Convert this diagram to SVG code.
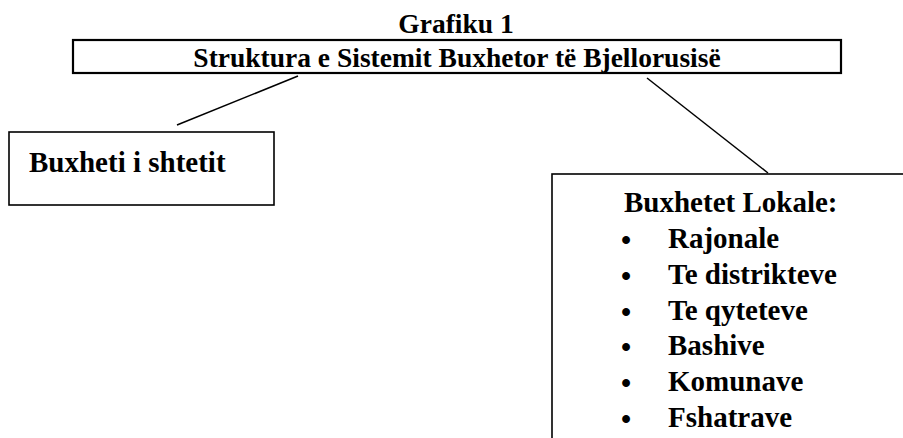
<svg xmlns="http://www.w3.org/2000/svg" width="903" height="438" viewBox="0 0 903 438">
<style>
  text { font-family: "Liberation Serif", "Times New Roman", serif; font-weight: bold; fill: #000; font-size: 29px; }
  .box { fill: #fff; stroke: #000; }
  .conn { stroke: #000; stroke-width: 1.5; fill: none; }
  .title { font-size: 27.5px; }
</style>
<rect width="903" height="438" fill="#fff"/>
<text class="title" x="456" y="33" text-anchor="middle">Grafiku 1</text>
<g id="connectors">
  <line class="conn" x1="298" y1="76" x2="177" y2="125"/>
  <line class="conn" x1="647" y1="78" x2="768" y2="173"/>
</g>
<g id="root">
  <rect class="box" x="73" y="40" width="768" height="33" stroke-width="2.2"/>
  <text class="title" x="457" y="67" text-anchor="middle">Struktura e Sistemit Buxhetor të Bjellorusisë</text>
</g>
<g id="state">
  <rect class="box" x="9" y="132" width="265" height="73" stroke-width="1.6"/>
  <text x="29" y="172">Buxheti i shtetit</text>
</g>
<g id="local">
  <rect class="box" x="552" y="174" width="360" height="280" stroke-width="1.6"/>
  <text x="624" y="212">Buxhetet Lokale:</text>
  <text x="621" y="250">•</text><text x="668" y="248">Rajonale</text>
  <text x="621" y="286">•</text><text x="668" y="284">Te distrikteve</text>
  <text x="621" y="322">•</text><text x="668" y="320">Te qyteteve</text>
  <text x="621" y="357">•</text><text x="668" y="355">Bashive</text>
  <text x="621" y="393">•</text><text x="668" y="391">Komunave</text>
  <text x="621" y="429">•</text><text x="668" y="427">Fshatrave</text>
</g>
</svg>
